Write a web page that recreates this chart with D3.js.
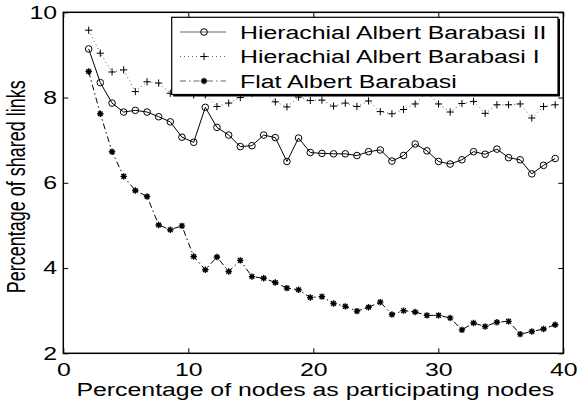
<!DOCTYPE html>
<html>
<head>
<meta charset="utf-8">
<script src="https://cdn.jsdelivr.net/npm/d3@7"></script>
<style>
body { margin: 0; background: #fff; }
text { font-family: "Liberation Sans", Arial, Helvetica, sans-serif; fill: #000; }
</style>
</head>
<body>
<svg id="chart" width="578" height="405"></svg>
<script>
// percentage of nodes as participating nodes
var xPct = [2.03, 2.96, 3.9, 4.83, 5.76, 6.7, 7.63, 8.56, 9.49, 10.43,
            11.36, 12.29, 13.23, 14.16, 15.09, 16.03, 16.96, 17.89, 18.82, 19.76,
            20.69, 21.62, 22.56, 23.49, 24.42, 25.36, 26.29, 27.22, 28.15, 29.09,
            30.02, 30.95, 31.89, 32.82, 33.75, 34.69, 35.62, 36.55, 37.48, 38.42, 39.35];

var hierII = [9.14, 8.35, 7.87, 7.66, 7.70, 7.66, 7.55, 7.43, 7.07, 6.95,
              7.77, 7.30, 7.12, 6.85, 6.87, 7.12, 7.06, 6.50, 7.05, 6.71,
              6.69, 6.68, 6.68, 6.64, 6.73, 6.77, 6.51, 6.64, 6.91, 6.75,
              6.50, 6.44, 6.54, 6.73, 6.67, 6.79, 6.59, 6.54, 6.21, 6.41, 6.57];

var hierI = [9.58, 9.04, 8.60, 8.65, 8.14, 8.37, 8.34, 8.10, 8.15, 8.06,
             8.06, 7.79, 7.87, 8.00, 8.10, 8.12, 7.90, 7.78, 8.01, 7.93,
             7.94, 7.80, 7.87, 7.79, 7.92, 7.67, 7.62, 7.72, 7.85, 8.12,
             7.85, 7.66, 7.86, 7.91, 7.63, 7.83, 7.83, 7.85, 7.52, 7.79, 7.83];

var flatAB = [8.61, 7.62, 6.73, 6.15, 5.82, 5.68, 5.01, 4.90, 4.99, 4.27,
              3.96, 4.26, 3.92, 4.18, 3.80, 3.76, 3.66, 3.53, 3.49, 3.31,
              3.33, 3.17, 3.10, 2.99, 3.08, 3.20, 2.91, 3.00, 2.97, 2.89,
              2.89, 2.83, 2.55, 2.71, 2.63, 2.73, 2.75, 2.45, 2.51, 2.57, 2.67];

var xTicks = [0, 10, 20, 30, 40];
var yTicks = [2, 4, 6, 8, 10];
var legendNames = ["Hierachial Albert Barabasi II", "Hierachial Albert Barabasi I", "Flat Albert Barabasi"];
var xTitle = "Percentage of nodes as participating nodes";
var yTitle = "Percentage of shared links";

var fs = 18,     // font size
    sx = 1.38;   // the original figure is stretched sideways

var m = {top: 12.3, right: 14.7, bottom: 51.7, left: 63.3},
    W = 578, H = 405;

var svg = d3.select("#chart");

var x = d3.scaleLinear().domain([0, 40]).range([m.left, W - m.right]);
var y = d3.scaleLinear().domain([2, 10]).range([H - m.bottom, m.top]);

var series = [
    {vals: hierII, dash: null, color: "#000", width: 1, marker: "circle"},
    {vals: hierI, dash: "1,3", color: "#444", width: 0.9, marker: "plus"},
    {vals: flatAB, dash: "6,3,1.5,3", color: "#000", width: 1, marker: "star"}
];

function drawMarker(g, kind) {
    if (kind == "circle") {
        g.append("circle").attr("r", 3.3)
            .attr("fill", "none").attr("stroke", "#000").attr("stroke-width", 1);
    } else if (kind == "plus") {
        g.append("path").attr("d", "M-3.6,0H3.6M0,-3.6V3.6")
            .attr("stroke", "#000").attr("stroke-width", 1);
    } else {
        g.append("path").attr("d", "M-3.2,0H3.2M0,-3.2V3.2M-2.3,-2.3L2.3,2.3M-2.3,2.3L2.3,-2.3")
            .attr("stroke", "#000").attr("stroke-width", 1.4);
    }
}

var line = d3.line()
    .x(function(d, i) { return x(xPct[i]); })
    .y(function(d) { return y(d); });

// data
var plot = svg.append("g").attr("class", "plot");
series.forEach(function(s) {
    plot.append("path")
        .attr("d", line(s.vals))
        .attr("fill", "none")
        .attr("stroke", s.color)
        .attr("stroke-width", s.width)
        .attr("stroke-dasharray", s.dash);
    plot.append("g").selectAll("g")
        .data(s.vals)
        .enter().append("g")
        .attr("transform", function(d, i) { return "translate(" + x(xPct[i]) + "," + y(d) + ")"; })
        .each(function() { drawMarker(d3.select(this), s.marker); });
});

// axes, ticks pointing inward on all four sides
svg.append("g")
    .attr("transform", "translate(0," + (H - m.bottom) + ")")
    .call(d3.axisBottom(x).tickValues(xTicks).tickSizeInner(-5).tickSizeOuter(0).tickPadding(10));
svg.append("g")
    .attr("transform", "translate(" + m.left + ",0)")
    .call(d3.axisLeft(y).tickValues(yTicks).tickSizeInner(-5).tickSizeOuter(0).tickPadding(4.5));
svg.append("g")
    .attr("transform", "translate(0," + m.top + ")")
    .call(d3.axisTop(x).tickValues(xTicks).tickSizeInner(-5).tickSizeOuter(0).tickFormat(""));
svg.append("g")
    .attr("transform", "translate(" + (W - m.right) + ",0)")
    .call(d3.axisRight(y).tickValues(yTicks).tickSizeInner(-5).tickSizeOuter(0).tickFormat(""));

svg.selectAll(".domain").remove();
svg.selectAll(".tick line").attr("stroke", "#000").attr("stroke-width", 1);
svg.selectAll(".tick text")
    .attr("font-family", null)
    .style("font-size", fs + "px")
    .attr("transform", "scale(" + sx + ",1)");

// legend box (opaque, sits on top of the lines)
var lg = svg.append("g").attr("class", "legend");
var lx = 171.7, ly = 17.3, lw = 386.3, lh = 77.2;
lg.append("rect")
    .attr("x", lx).attr("y", ly).attr("width", lw).attr("height", lh)
    .attr("fill", "#fff").attr("stroke", "#000").attr("stroke-width", 1.2);
lg.append("path")
    .attr("d", "M" + (lx + lw + 1) + "," + (ly + 1.5) + "V" + (ly + lh + 1) + "H" + (lx + 1.5))
    .attr("fill", "none").attr("stroke", "#000").attr("stroke-width", 2);

var rowY = [32, 56.5, 81];
series.forEach(function(s, i) {
    lg.append("line")
        .attr("x1", 180).attr("x2", 226).attr("y1", rowY[i]).attr("y2", rowY[i])
        .attr("stroke", "#666").attr("stroke-width", 1)
        .attr("stroke-dasharray", s.dash);
    var mk = lg.append("g").attr("transform", "translate(204," + rowY[i] + ")");
    drawMarker(mk, s.marker);
    lg.append("text")
        .attr("transform", "translate(240," + (rowY[i] + 6.5) + ") scale(" + sx + ",1)")
        .style("font-size", fs + "px")
        .text(legendNames[i]);
});

// axis titles
svg.append("text")
    .attr("transform", "translate(" + ((m.left + W - m.right) / 2 + 2) + ",396) scale(" + sx + ",1)")
    .attr("text-anchor", "middle")
    .style("font-size", fs + "px")
    .text(xTitle);
svg.append("text")
    .attr("transform", "translate(25," + ((m.top + H - m.bottom) / 2 + 4) + ") rotate(-90) scale(1," + sx + ")")
    .attr("text-anchor", "middle")
    .style("font-size", fs + "px")
    .text(yTitle);

// frame drawn last
svg.append("rect")
    .attr("x", m.left).attr("y", m.top)
    .attr("width", W - m.left - m.right).attr("height", H - m.top - m.bottom)
    .attr("fill", "none").attr("stroke", "#000").attr("stroke-width", 1.5);
</script>
</body>
</html>
